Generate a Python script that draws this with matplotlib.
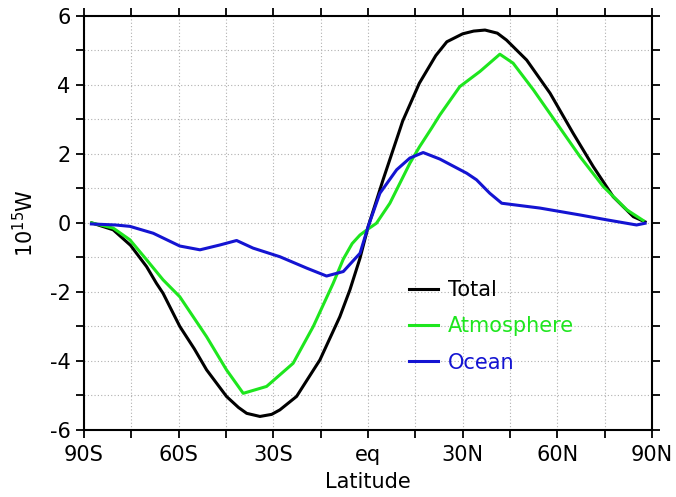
import numpy as np
import matplotlib.pyplot as plt

plt.rcParams['font.family'] = ['DejaVu Sans']
plt.rcParams['axes.unicode_minus'] = False

# Latitude (deg, negative = south) and heat transport (10^15 W)
lat_total = [-87.5, -80.7, -75.2, -70.1, -67.0, -64.9, -59.6, -55.0, -51.1, -44.8, -41.0, -38.4,
             -34.2, -30.5, -27.9, -22.6, -15.2, -8.9, -5.7, -2.5, 0.1, 4.8, 10.1, 11.0, 16.3,
             21.5, 25.0, 30.0, 33.5, 37.1, 41.0, 43.9, 50.3, 57.7, 65.0, 71.4, 77.7, 84.1, 87.8]
total = [0.0, -0.2, -0.65, -1.27, -1.75, -2.04, -3.0, -3.65, -4.26, -5.03, -5.35, -5.52,
         -5.61, -5.55, -5.42, -5.03, -3.97, -2.72, -1.94, -1.02, -0.1, 1.25, 2.7, 2.95, 4.05,
         4.85, 5.25, 5.48, 5.56, 5.59, 5.5, 5.3, 4.72, 3.76, 2.6, 1.63, 0.76, 0.18, 0.03]

lat_atm = [-87.5, -80.7, -75.4, -70.1, -64.9, -59.6, -51.1, -44.8, -39.5, -32.1, -23.7, -17.3,
           -11.0, -7.8, -5.0, -2.5, 0.0, 2.7, 6.96, 13.3, 16.3, 20.2, 22.8, 29.1, 35.5,
           41.8, 46.0, 52.4, 59.8, 67.2, 74.6, 82.0, 87.2]
atm = [0.0, -0.15, -0.49, -1.07, -1.65, -2.14, -3.3, -4.26, -4.94, -4.74, -4.07, -3.0,
       -1.75, -1.05, -0.6, -0.35, -0.18, -0.01, 0.57, 1.73, 2.2, 2.75, 3.13, 3.95, 4.39,
       4.89, 4.63, 3.86, 2.89, 1.92, 1.05, 0.38, 0.07]

lat_ocn = [-87.6, -80.0, -75.4, -68.0, -59.6, -53.2, -46.9, -41.6, -36.4, -27.9, -19.4, -13.1,
           -7.8, -2.5, 0.1, 3.8, 9.1, 13.3, 17.5, 22.8, 31.3, 34.4, 38.6, 42.4, 54.5, 67.2,
           75.6, 85.1, 87.8]
ocn = [-0.03, -0.06, -0.1, -0.3, -0.67, -0.78, -0.64, -0.51, -0.73, -0.98, -1.31, -1.54,
       -1.41, -0.88, -0.1, 0.86, 1.54, 1.88, 2.04, 1.85, 1.44, 1.25, 0.86, 0.57, 0.43, 0.23,
       0.09, -0.06, -0.01]

xticks = [-90, -60, -30, 0, 30, 60, 90]
xlabels = ['90S', '60S', '30S', 'eq', '30N', '60N', '90N']

fig = plt.figure(figsize=(6.76, 4.97), dpi=100)
ax = fig.add_axes([0.124, 0.135, 0.8405, 0.833])

ax.plot(lat_total, total, color='black', lw=2.2, label='Total')
ax.plot(lat_atm, atm, color='#1ee61e', lw=2.2, label='Atmosphere')
ax.plot(lat_ocn, ocn, color='#1414d2', lw=2.2, label='Ocean')

ax.set_xlim(-90, 90)
ax.set_ylim(-6, 6)
ax.set_xticks(xticks)
ax.set_xticklabels(xlabels)
ax.set_xticks(np.arange(-75, 90, 30), minor=True)
ax.set_yticks([-6, -4, -2, 0, 2, 4, 6])
ax.set_yticks([-5, -3, -1, 1, 3, 5], minor=True)
ax.tick_params(which='both', direction='out', length=6, width=1.3,
               top=True, right=True, labelsize=15)
ax.tick_params(axis='x', pad=5)
for s in ax.spines.values():
    s.set_linewidth(1.5)

ax.grid(True, which='both', color='#b0b0b0', linestyle=(0, (1, 2)), linewidth=0.8)
ax.set_axisbelow(True)

ax.set_xlabel('Latitude', fontsize=15, labelpad=5)
ax.set_ylabel(r'10$^{15}$W', fontsize=15, labelpad=9)

ax.legend(loc='upper left', bbox_to_anchor=(0.573, 0.362), frameon=False, fontsize=15,
          labelcolor='linecolor', handlelength=1.35, handletextpad=0.5,
          labelspacing=0.78, borderpad=0, borderaxespad=0)

fig.savefig('out.png', dpi=100)
